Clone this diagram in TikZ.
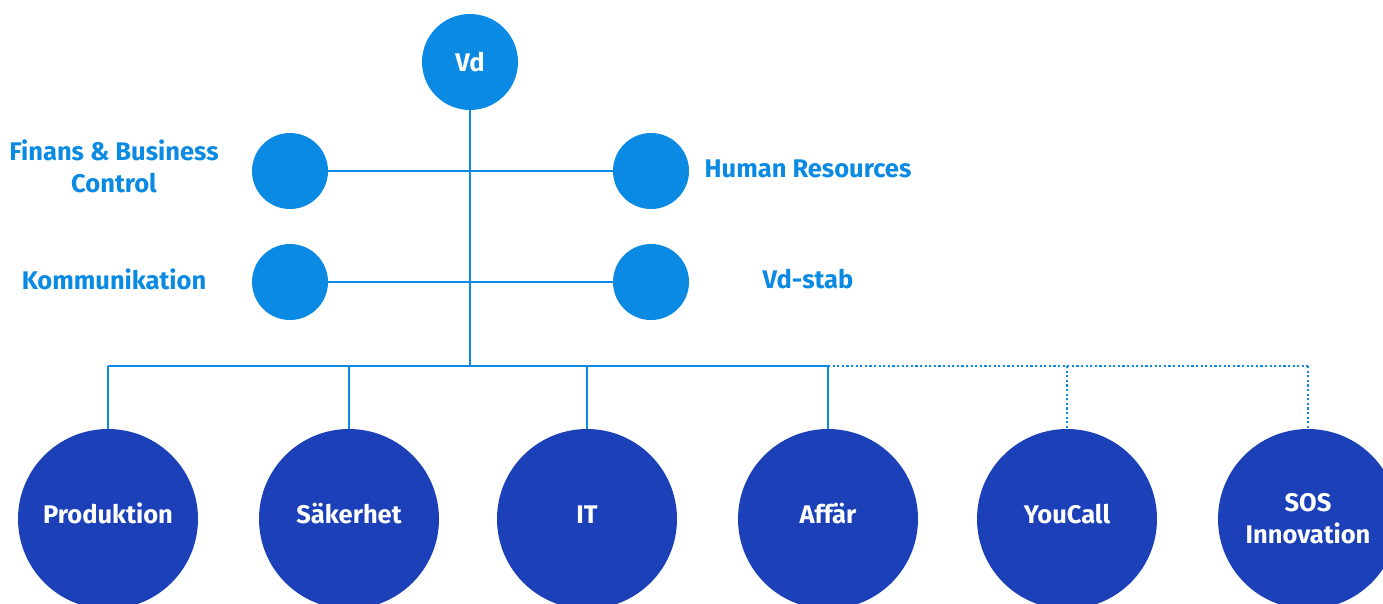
\documentclass[tikz,border=0pt]{standalone}
\usepackage{fontspec}
\setmainfont{Fira Sans}
\definecolor{orgSky}{HTML}{0A8AE2}
\definecolor{orgRoyal}{HTML}{1B40B8}
\tikzset{
  org line/.style={draw=orgSky, line width=2.4pt},
  org dots/.style={draw=orgSky, line width=2.4pt, dash pattern=on 2.2pt off 2.4pt},
  org head/.style={circle, fill=orgSky, minimum size=96pt, inner sep=0pt, text=white,
    font=\fontsize{25.5}{30}\selectfont\bfseries},
  org staff/.style={circle, fill=orgSky, minimum size=76pt, inner sep=0pt},
  org unit/.style={circle, fill=orgRoyal, minimum size=180pt, inner sep=0pt, text=white,
    align=center, font=\fontsize{25.5}{32}\selectfont\bfseries},
  org single/.style={org unit, text height=19pt, text depth=10pt},
  org label/.style={text=orgSky, align=center, font=\fontsize{25.5}{32}\selectfont\bfseries},
}
\begin{document}
\begin{tikzpicture}[x=1pt,y=-1pt]
  \clip (0,0) rectangle (1383,603);
  % ledning och stab
  \node[org head] (vd) at (470,62) {Vd};
  \node[org staff] (fin) at (290,171) {};
  \node[org staff] (hr) at (651,171) {};
  \node[org staff] (kom) at (290,282) {};
  \node[org staff] (stab) at (651,282) {};
  \node[org label] (finT) at (114,166) {Finans \& Business\\Control};
  \node[org label] (hrT) at (808,169) {Human Resources};
  \node[org label] (komT) at (114,279) {Kommunikation};
  \node[org label] (stabT) at (808,279) {Vd-stab};
  % affärsområden
  \node[org single] (prod) at (108,519) {Produktion};
  \node[org single] (sak) at (349,519) {Säkerhet};
  \node[org single] (it) at (587,519) {IT};
  \node[org single] (aff) at (828,519) {Affär};
  \node[org single] (you) at (1067,519) {YouCall};
  \node[org unit] (sos) at (1308,519) {SOS\\Innovation};
  \coordinate (hub) at (470,366);
  \coordinate (b1) at (108,366);
  \coordinate (b2) at (349,366);
  \coordinate (b3) at (587,366);
  \coordinate (b4) at (828,366);
  \coordinate (b5) at (1067,366);
  \coordinate (b6) at (1308,366);
  % linjer
  \draw[org line] (vd) -- (hub);
  \draw[org line] (fin) -- (hr);
  \draw[org line] (kom) -- (stab);
  \draw[org line] (b1) -- (b4);
  \foreach \b/\u in {b1/prod,b2/sak,b3/it,b4/aff}
    \draw[org line] (\b) -- (\u);
  \draw[org dots] (b4) -- (b6);
  \draw[org dots] (b5) -- (you);
  \draw[org dots] (b6) -- (sos);
\end{tikzpicture}
\end{document}
